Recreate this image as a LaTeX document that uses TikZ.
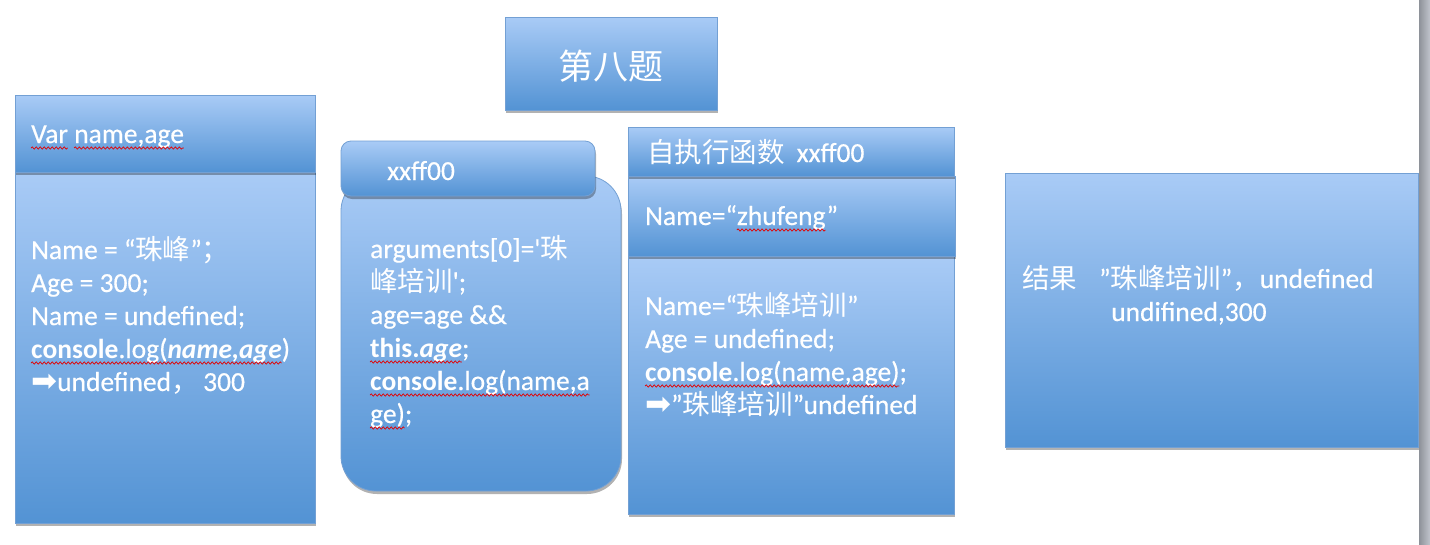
\documentclass[tikz,border=0pt]{standalone}
\usepackage{fontspec}
\setmainfont{Carlito}[UprightFeatures={FakeBold=0.5}]
\newfontfamily\cjk{Noto Sans CJK SC}
\newfontfamily\dv{DejaVu Sans}
\usetikzlibrary{shadows,decorations.pathmorphing}
\definecolor{topc}{HTML}{A9CBF6}
\definecolor{botc}{HTML}{5393D4}
\definecolor{edgec}{HTML}{73A0D4}
\definecolor{barl}{HTML}{8E9299}
\definecolor{barr}{HTML}{C0C4CC}
\newcommand\tsz{\fontsize{27.5}{33}\selectfont}
\newcommand\lns[1]{\vtop{\baselineskip=33pt\halign{##\hfil\cr#1\crcr}}}
\newcommand\arr{{\dv\fontsize{31}{33}\selectfont ➡}}
\newlength\wva
\newlength\wvb
\newlength\wvy
% \wv{node}{line index}{prefix}{segment}
\newcommand\wv[4]{%
  \pgfinterruptpicture
    \settowidth\wva{\tsz #3}\global\wva=\wva
    \settowidth\wvb{\tsz #4}\global\wvb=\wvb
  \endpgfinterruptpicture
  \setlength\wvy{-5pt}\addtolength\wvy{-#2\dimexpr 33pt\relax}%
  \draw[wave] ([xshift=\wva,yshift=\wvy]#1.base west) -- ++(\wvb,0pt);}
\tikzset{
  panel/.style={draw=edgec, line width=0.8pt, top color=topc, bottom color=botc,
    inner sep=0pt, outer sep=0pt,
    drop shadow={shadow xshift=1pt, shadow yshift=-3pt, opacity=.3, fill=black}},
  txt/.style={text=white, font=\tsz, inner sep=0pt, anchor=base west},
  wave/.style={red!90!black, line width=0.7pt, decorate,
    decoration={snake, amplitude=1.1pt, segment length=4pt}},
}
\begin{document}
\begin{tikzpicture}[x=1pt,y=-1pt]
\useasboundingbox (0,0) rectangle (1430,544);
\fill[white] (0,0) rectangle (1430,544);
\shade[left color=barl, right color=barr] (1419,0) rectangle (1430,544);

% title
\node[panel, minimum width=212pt, minimum height=93pt] (title) at (611,63.5) {};
\node[text=white, inner sep=0pt, font=\fontsize{35}{40}\selectfont\cjk] (titletxt) at (611,66) {第八题};

% left column
\node[panel, minimum width=300pt, minimum height=351pt] (lbody) at (165,347.5) {};
\node[panel, minimum width=300pt, minimum height=77pt] (lhead) at (165,133.5) {};
\node[txt] (lheadtxt) at (31,143) {Var name,age};
\node[txt] (lbodytxt) at (31,259) {\lns{%
Name = “{\cjk 珠峰}”{\cjk ；}\cr
Age = 300;\cr
Name = undefined;\cr
{\bfseries console}.log({\bfseries\itshape name,age})\cr
\arr undefined{\cjk ，}\,300\cr}};
\wv{lheadtxt}{0}{}{Var}
\wv{lheadtxt}{0}{Var }{name,age}
\wv{lbodytxt}{3}{}{{\bfseries console}.log({\bfseries\itshape name,age}}

% middle column
\node[panel, rounded corners=35pt, minimum width=280pt, minimum height=315pt] (mbody) at (481,333.5) {};
\node[panel, rounded corners=10pt, minimum width=254pt, minimum height=55pt] (mhead) at (468,168.5) {};
\node[txt] (mheadtxt) at (387,180) {xxff00};
\node[txt] (mbodytxt) at (370,258) {\lns{%
arguments[0]=\textquotesingle{\cjk 珠}\cr
{\cjk 峰培训}\textquotesingle;\cr
age=age \&\&\cr
{\bfseries this.{\itshape age}};\cr
{\bfseries console}.log(name,a\cr
ge);\cr}};
\wv{mbodytxt}{3}{}{{\bfseries this.{\itshape age}}}
\wv{mbodytxt}{4}{}{{\bfseries console}.log(name,a}
\wv{mbodytxt}{5}{}{ge)}

% right column
\node[panel, minimum width=326pt, minimum height=258pt] (rbody) at (791,385) {};
\node[panel, minimum width=327pt, minimum height=80pt] (rmid) at (791.5,216) {};
\node[panel, minimum width=326pt, minimum height=49pt] (rhead) at (791,151.5) {};
\node[txt] (rheadtxt) at (647,162) {{\cjk 自执行函数}\hspace{12pt}xxff00};
\node[txt] (rmidtxt) at (645,225) {Name=“zhufeng”};
\wv{rmidtxt}{0}{Name=“}{zhufeng}
\node[txt] (rbodytxt) at (645,315) {\lns{%
Name=“{\cjk 珠峰培训}”\cr
Age = undefined;\cr
{\bfseries console}.log(name,age);\cr
\arr”{\cjk 珠峰培训}”undefined\cr}};
\wv{rbodytxt}{2}{}{{\bfseries console}.log(name,age)}

% result
\node[panel, minimum width=413pt, minimum height=274pt] (res) at (1211.5,310) {};
\node[txt] (restxt) at (1022,288) {\lns{%
{\cjk 结果}\hspace{22pt}”{\cjk 珠峰培训}”{\cjk ，}undefined\cr
\hspace{89pt}undifined,300\cr}};
\end{tikzpicture}
\end{document}
